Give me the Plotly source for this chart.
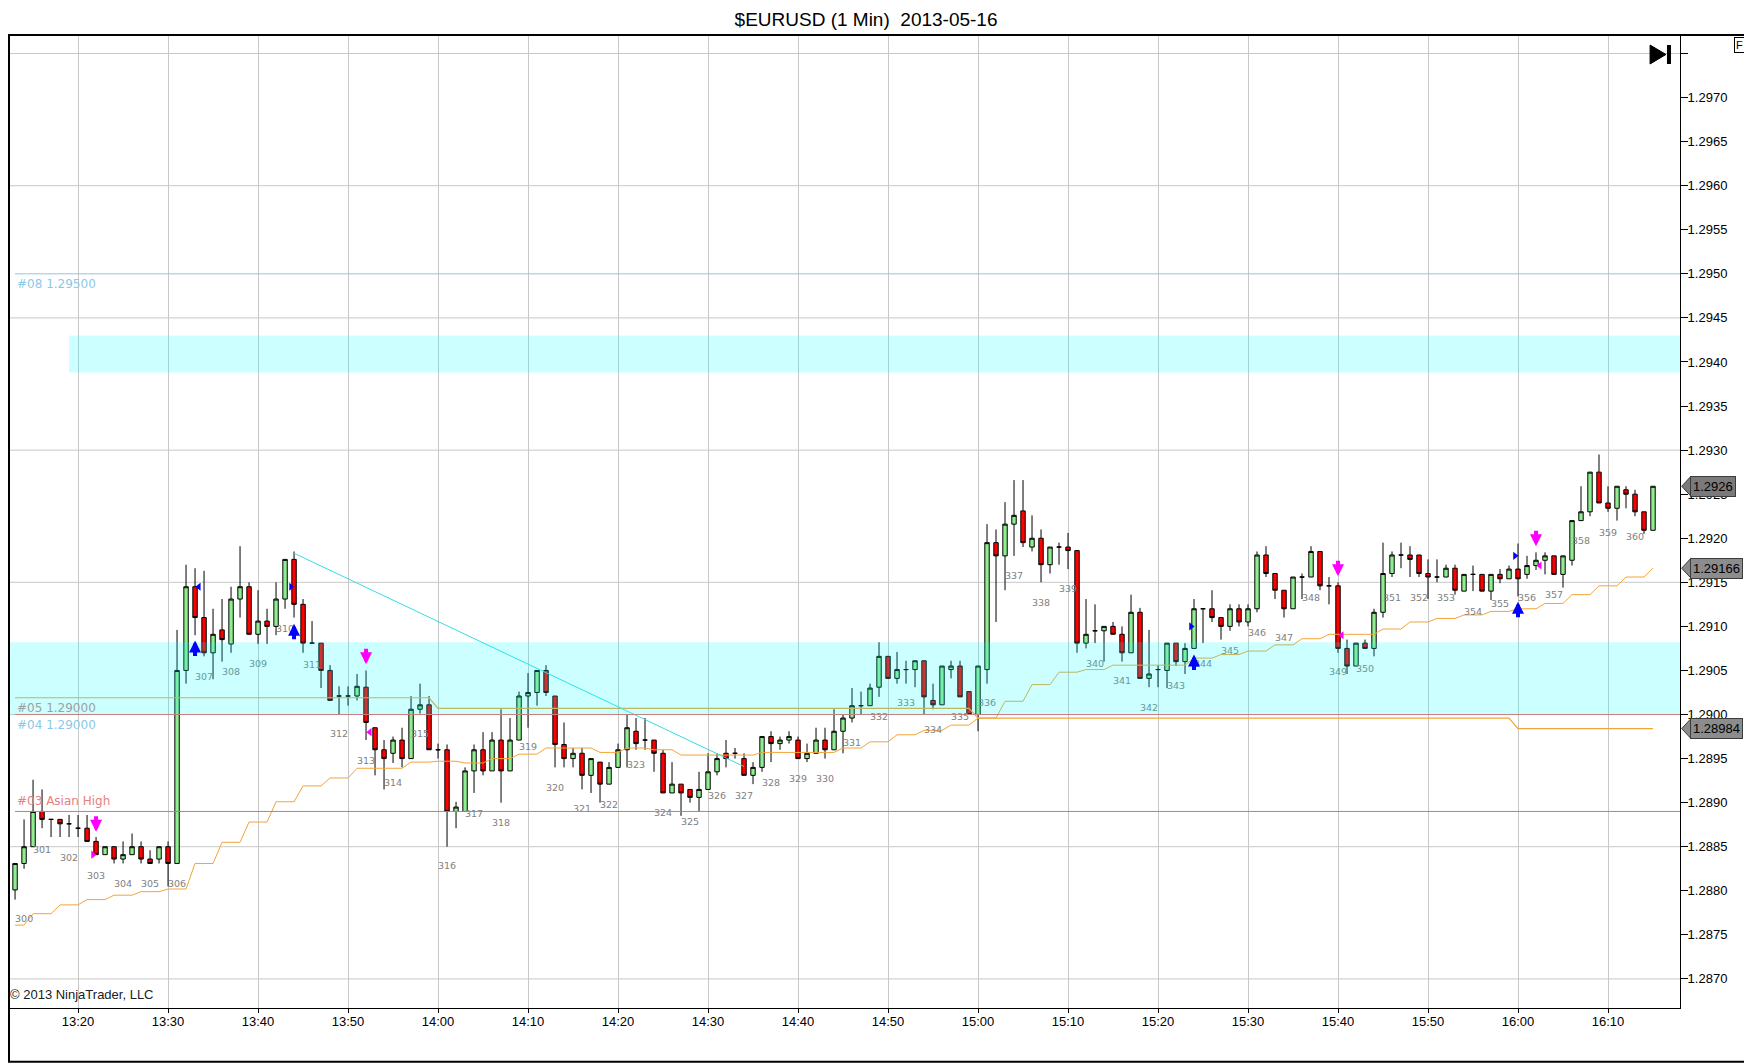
import pandas as pd
import plotly.graph_objects as go

# one bar per minute, starting 13:13
bar_times = pd.date_range("2013-05-16 13:13", periods=183, freq="min")

bar_open = [
    1.28801, 1.28831, 1.28850, 1.28890, 1.28881, 1.28881, 1.28876, 1.28871, 1.28871, 1.28856,
    1.28841, 1.28850, 1.28836, 1.28841, 1.28850, 1.28836, 1.28836, 1.28850, 1.28831, 1.29050,
    1.29145, 1.29110, 1.29070, 1.29096, 1.29080, 1.29131, 1.29145, 1.29091, 1.29106, 1.29100,
    1.29131, 1.29176, 1.29125, 1.29081, 1.29081, 1.29050, 1.29021, 1.29021, 1.29021, 1.29031,
    1.28985, 1.28960, 1.28956, 1.28971, 1.28950, 1.29006, 1.29011, 1.28960, 1.28960, 1.28890,
    1.28890, 1.28936, 1.28960, 1.28936, 1.28971, 1.28936, 1.28971, 1.29021, 1.29025, 1.29050,
    1.29021, 1.28966, 1.28950, 1.28956, 1.28931, 1.28946, 1.28921, 1.28940, 1.28960, 1.28981,
    1.28971, 1.28971, 1.28956, 1.28911, 1.28921, 1.28915, 1.28906, 1.28915, 1.28935, 1.28956,
    1.28956, 1.28950, 1.28931, 1.28940, 1.28975, 1.28967, 1.28971, 1.28971, 1.28950, 1.28956,
    1.28971, 1.28960, 1.28981, 1.28996, 1.29010, 1.29010, 1.29031, 1.29066, 1.29041, 1.29051,
    1.29051, 1.29061, 1.29016, 1.29011, 1.29051, 1.29055, 1.29026, 1.29000, 1.29051, 1.29195,
    1.29180, 1.29216, 1.29231, 1.29190, 1.29200, 1.29170, 1.29190, 1.29190, 1.29186, 1.29081,
    1.29095, 1.29095, 1.29100, 1.29091, 1.29070, 1.29116, 1.29041, 1.29051, 1.29050, 1.29081,
    1.29060, 1.29075, 1.29120, 1.29120, 1.29110, 1.29100, 1.29120, 1.29105, 1.29120, 1.29181,
    1.29160, 1.29141, 1.29120, 1.29156, 1.29156, 1.29185, 1.29146, 1.29146, 1.29075, 1.29055,
    1.29081, 1.29075, 1.29116, 1.29160, 1.29181, 1.29181, 1.29181, 1.29160, 1.29156, 1.29156,
    1.29166, 1.29140, 1.29159, 1.29159, 1.29140, 1.29159, 1.29154, 1.29165, 1.29159, 1.29169,
    1.29175, 1.29180, 1.29159, 1.29175, 1.29220, 1.29230, 1.29275, 1.29240, 1.29234, 1.29255,
    1.29250, 1.29230, 1.29209,
]
bar_high = [
    1.28831, 1.28881, 1.28926, 1.28915, 1.28881, 1.28881, 1.28886, 1.28886, 1.28886, 1.28861,
    1.28850, 1.28850, 1.28856, 1.28865, 1.28856, 1.28846, 1.28850, 1.28856, 1.29096, 1.29170,
    1.29166, 1.29163, 1.29120, 1.29131, 1.29145, 1.29191, 1.29150, 1.29141, 1.29120, 1.29150,
    1.29176, 1.29185, 1.29131, 1.29106, 1.29081, 1.29056, 1.29032, 1.29032, 1.29046, 1.29050,
    1.28985, 1.28971, 1.28975, 1.28985, 1.29021, 1.29035, 1.29021, 1.28967, 1.28966, 1.28901,
    1.28940, 1.28966, 1.28980, 1.28980, 1.29006, 1.28996, 1.29026, 1.29047, 1.29050, 1.29056,
    1.29021, 1.28991, 1.28962, 1.28962, 1.28950, 1.28946, 1.28946, 1.28967, 1.29000, 1.28996,
    1.28996, 1.28971, 1.28960, 1.28946, 1.28921, 1.28915, 1.28935, 1.28956, 1.28956, 1.28971,
    1.28962, 1.28956, 1.28946, 1.28975, 1.28981, 1.28975, 1.28981, 1.28975, 1.28967, 1.28985,
    1.28985, 1.29006, 1.29000, 1.29030, 1.29026, 1.29035, 1.29082, 1.29066, 1.29071, 1.29061,
    1.29061, 1.29061, 1.29035, 1.29055, 1.29061, 1.29061, 1.29026, 1.29055, 1.29216, 1.29210,
    1.29241, 1.29266, 1.29266, 1.29226, 1.29210, 1.29190, 1.29195, 1.29206, 1.29186, 1.29131,
    1.29125, 1.29100, 1.29105, 1.29100, 1.29136, 1.29121, 1.29096, 1.29056, 1.29081, 1.29081,
    1.29081, 1.29131, 1.29120, 1.29141, 1.29110, 1.29125, 1.29125, 1.29125, 1.29185, 1.29191,
    1.29160, 1.29141, 1.29156, 1.29160, 1.29191, 1.29185, 1.29156, 1.29150, 1.29085, 1.29081,
    1.29085, 1.29120, 1.29195, 1.29185, 1.29195, 1.29191, 1.29181, 1.29176, 1.29176, 1.29170,
    1.29170, 1.29159, 1.29169, 1.29159, 1.29159, 1.29165, 1.29169, 1.29194, 1.29180, 1.29184,
    1.29184, 1.29180, 1.29180, 1.29220, 1.29259, 1.29275, 1.29295, 1.29259, 1.29259, 1.29259,
    1.29255, 1.29230, 1.29259,
]
bar_low = [
    1.28790, 1.28825, 1.28850, 1.28871, 1.28861, 1.28861, 1.28861, 1.28861, 1.28856, 1.28841,
    1.28841, 1.28831, 1.28831, 1.28841, 1.28831, 1.28831, 1.28831, 1.28805, 1.28831, 1.29035,
    1.29090, 1.29066, 1.29040, 1.29060, 1.29070, 1.29110, 1.29091, 1.29080, 1.29080, 1.29090,
    1.29120, 1.29110, 1.29070, 1.29081, 1.29030, 1.29016, 1.29000, 1.29010, 1.29016, 1.28971,
    1.28931, 1.28915, 1.28945, 1.28940, 1.28950, 1.29001, 1.28960, 1.28950, 1.28850, 1.28871,
    1.28890, 1.28911, 1.28931, 1.28936, 1.28900, 1.28936, 1.28971, 1.28985, 1.29010, 1.29021,
    1.28940, 1.28940, 1.28940, 1.28915, 1.28911, 1.28900, 1.28921, 1.28940, 1.28940, 1.28960,
    1.28960, 1.28935, 1.28911, 1.28911, 1.28885, 1.28900, 1.28890, 1.28915, 1.28931, 1.28940,
    1.28950, 1.28931, 1.28921, 1.28935, 1.28946, 1.28960, 1.28967, 1.28950, 1.28946, 1.28956,
    1.28950, 1.28960, 1.28956, 1.28991, 1.29000, 1.29010, 1.29020, 1.29041, 1.29035, 1.29035,
    1.29031, 1.29000, 1.29006, 1.29011, 1.29041, 1.29020, 1.29000, 1.28981, 1.29035, 1.29105,
    1.29141, 1.29180, 1.29190, 1.29185, 1.29150, 1.29160, 1.29170, 1.29165, 1.29070, 1.29075,
    1.29081, 1.29060, 1.29091, 1.29060, 1.29070, 1.29041, 1.29031, 1.29031, 1.29030, 1.29055,
    1.29046, 1.29075, 1.29081, 1.29105, 1.29085, 1.29095, 1.29100, 1.29100, 1.29116, 1.29156,
    1.29131, 1.29110, 1.29120, 1.29131, 1.29156, 1.29141, 1.29125, 1.29070, 1.29046, 1.29055,
    1.29075, 1.29066, 1.29110, 1.29156, 1.29166, 1.29156, 1.29156, 1.29131, 1.29150, 1.29156,
    1.29136, 1.29140, 1.29140, 1.29140, 1.29130, 1.29149, 1.29154, 1.29134, 1.29154, 1.29164,
    1.29159, 1.29159, 1.29144, 1.29169, 1.29220, 1.29225, 1.29240, 1.29230, 1.29220, 1.29234,
    1.29225, 1.29205, 1.29209,
]
bar_close = [
    1.28831, 1.28850, 1.28890, 1.28881, 1.28881, 1.28876, 1.28876, 1.28871, 1.28856, 1.28841,
    1.28850, 1.28836, 1.28841, 1.28850, 1.28836, 1.28831, 1.28850, 1.28831, 1.29050, 1.29145,
    1.29110, 1.29070, 1.29091, 1.29085, 1.29131, 1.29145, 1.29091, 1.29106, 1.29100, 1.29131,
    1.29176, 1.29125, 1.29081, 1.29081, 1.29050, 1.29016, 1.29021, 1.29021, 1.29032, 1.28991,
    1.28960, 1.28950, 1.28971, 1.28950, 1.29006, 1.29011, 1.28960, 1.28960, 1.28890, 1.28895,
    1.28936, 1.28960, 1.28936, 1.28971, 1.28936, 1.28971, 1.29021, 1.29025, 1.29050, 1.29025,
    1.28966, 1.28950, 1.28956, 1.28931, 1.28950, 1.28921, 1.28940, 1.28960, 1.28985, 1.28967,
    1.28971, 1.28956, 1.28911, 1.28921, 1.28911, 1.28906, 1.28915, 1.28935, 1.28950, 1.28950,
    1.28956, 1.28931, 1.28940, 1.28975, 1.28967, 1.28971, 1.28975, 1.28950, 1.28956, 1.28971,
    1.28960, 1.28981, 1.28996, 1.29010, 1.29010, 1.29030, 1.29066, 1.29041, 1.29051, 1.29051,
    1.29061, 1.29020, 1.29011, 1.29055, 1.29055, 1.29020, 1.29000, 1.29055, 1.29195, 1.29180,
    1.29216, 1.29226, 1.29195, 1.29200, 1.29170, 1.29190, 1.29190, 1.29186, 1.29081, 1.29091,
    1.29095, 1.29100, 1.29091, 1.29070, 1.29116, 1.29041, 1.29046, 1.29051, 1.29081, 1.29060,
    1.29075, 1.29120, 1.29120, 1.29110, 1.29100, 1.29120, 1.29105, 1.29120, 1.29181, 1.29160,
    1.29141, 1.29120, 1.29156, 1.29156, 1.29185, 1.29146, 1.29146, 1.29075, 1.29055, 1.29081,
    1.29075, 1.29116, 1.29160, 1.29181, 1.29181, 1.29176, 1.29160, 1.29156, 1.29156, 1.29166,
    1.29141, 1.29159, 1.29159, 1.29140, 1.29159, 1.29154, 1.29165, 1.29154, 1.29169, 1.29175,
    1.29180, 1.29159, 1.29180, 1.29220, 1.29230, 1.29275, 1.29240, 1.29234, 1.29259, 1.29250,
    1.29230, 1.29209, 1.29259,
]

# stepped trailing line (orange), one value per bar
trail_line = [
    1.28761, 1.28761, 1.28774, 1.28774, 1.28774, 1.28784, 1.28784, 1.28784, 1.28790, 1.28790,
    1.28790, 1.28795, 1.28795, 1.28795, 1.28799, 1.28799, 1.28799, 1.28802, 1.28802, 1.28802,
    1.28831, 1.28831, 1.28831, 1.28855, 1.28855, 1.28855, 1.28878, 1.28878, 1.28878, 1.28901,
    1.28901, 1.28901, 1.28919, 1.28919, 1.28919, 1.28928, 1.28928, 1.28928, 1.28939, 1.28939,
    1.28939, 1.28939, 1.28939, 1.28939, 1.28946, 1.28946, 1.28946, 1.28947, 1.28947, 1.28947,
    1.28945, 1.28945, 1.28945, 1.28950, 1.28950, 1.28950, 1.28955, 1.28955, 1.28955, 1.28962,
    1.28962, 1.28962, 1.28962, 1.28962, 1.28962, 1.28957, 1.28957, 1.28957, 1.28962, 1.28962,
    1.28962, 1.28960, 1.28960, 1.28960, 1.28954, 1.28954, 1.28954, 1.28954, 1.28954, 1.28954,
    1.28954, 1.28954, 1.28954, 1.28957, 1.28957, 1.28957, 1.28957, 1.28957, 1.28957, 1.28957,
    1.28957, 1.28957, 1.28962, 1.28962, 1.28962, 1.28969, 1.28969, 1.28969, 1.28977, 1.28977,
    1.28977, 1.28982, 1.28982, 1.28982, 1.28988, 1.28988, 1.28988, 1.28996, 1.28996, 1.28996,
    1.29015, 1.29015, 1.29015, 1.29034, 1.29034, 1.29034, 1.29048, 1.29048, 1.29048, 1.29051,
    1.29051, 1.29051, 1.29056, 1.29056, 1.29056, 1.29056, 1.29056, 1.29056, 1.29056, 1.29056,
    1.29056, 1.29064, 1.29064, 1.29064, 1.29068, 1.29068, 1.29068, 1.29072, 1.29072, 1.29072,
    1.29079, 1.29079, 1.29079, 1.29086, 1.29086, 1.29086, 1.29091, 1.29091, 1.29091, 1.29091,
    1.29091, 1.29091, 1.29097, 1.29097, 1.29097, 1.29105, 1.29105, 1.29105, 1.29109, 1.29109,
    1.29109, 1.29113, 1.29113, 1.29113, 1.29117, 1.29117, 1.29117, 1.29120, 1.29120, 1.29120,
    1.29126, 1.29126, 1.29126, 1.29136, 1.29136, 1.29136, 1.29146, 1.29146, 1.29146, 1.29156,
    1.29156, 1.29156, 1.29166,
]

# hourly flat line
hour_times = ["2013-05-16 13:13", "2013-05-16 13:59", "2013-05-16 14:00", "2013-05-16 14:59",
              "2013-05-16 15:00", "2013-05-16 15:59", "2013-05-16 16:00", "2013-05-16 16:15"]
hour_level = [1.29019, 1.29019, 1.29007, 1.29007, 1.28996, 1.28996, 1.28984, 1.28984]

# swing numbers printed every third bar
swing_labels = [str(n) for n in range(300, 361)]
swing_prices = [
    1.28767, 1.28846, 1.28837, 1.28816, 1.28807, 1.28807, 1.28807, 1.29042, 1.29047, 1.29057,
    1.29096, 1.29056, 1.28977, 1.28946, 1.28922, 1.28977, 1.28827, 1.28886, 1.28876, 1.28962,
    1.28916, 1.28892, 1.28897, 1.28942, 1.28887, 1.28877, 1.28907, 1.28907, 1.28922, 1.28926,
    1.28926, 1.28967, 1.28997, 1.29012, 1.28982, 1.28997, 1.29012, 1.29156, 1.29126, 1.29142,
    1.29057, 1.29037, 1.29007, 1.29032, 1.29057, 1.29071, 1.29092, 1.29086, 1.29132, 1.29047,
    1.29051, 1.29132, 1.29132, 1.29132, 1.29116, 1.29125, 1.29131, 1.29135, 1.29196, 1.29205,
    1.29201,
]

# signal arrows (tip position)
sell_times = ["2013-05-16 13:22", "2013-05-16 13:52", "2013-05-16 15:40", "2013-05-16 16:02"]
sell_prices = [1.28867, 1.29057, 1.29157, 1.29191]
buy_times = ["2013-05-16 13:33", "2013-05-16 13:44", "2013-05-16 15:24", "2013-05-16 16:00"]
buy_prices = [1.29084, 1.29103, 1.29068, 1.29128]

# small entry triangles
flag_times = ["2013-05-16 13:21:40", "2013-05-16 13:33:25", "2013-05-16 13:43:40",
              "2013-05-16 13:52:25", "2013-05-16 15:23:40", "2013-05-16 15:40:25",
              "2013-05-16 15:59:40", "2013-05-16 16:02:25"]
flag_prices = [1.28841, 1.29145, 1.29145, 1.28980, 1.29100, 1.29090, 1.29180, 1.29169]
flag_symbols = ["triangle-right", "triangle-left", "triangle-right", "triangle-left",
                "triangle-right", "triangle-left", "triangle-right", "triangle-left"]
flag_colors = ["#FF00FF", "#0000FF", "#0000FF", "#FF00FF",
               "#0000FF", "#FF00FF", "#0000FF", "#FF00FF"]

# trend line
trend_times = ["2013-05-16 13:44", "2013-05-16 14:34"]
trend_prices = [1.29183, 1.28941]

# horizontal levels
level_08 = 1.29500
level_04 = 1.29000
level_03 = 1.28890
zone_low = [1.29000, 1.29082]
zone_high = [1.29388, 1.29430]

price_ticks = [1.2870, 1.2875, 1.2880, 1.2885, 1.2890, 1.2895, 1.2900, 1.2905, 1.2910,
               1.2915, 1.2920, 1.2925, 1.2930, 1.2935, 1.2940, 1.2945, 1.2950, 1.2955,
               1.2960, 1.2965, 1.2970, 1.2975]
price_tick_text = ["1.2870", "1.2875", "1.2880", "1.2885", "1.2890", "1.2895", "1.2900",
                   "1.2905", "1.2910", "1.2915", "1.2920", "1.2925", "1.2930", "1.2935",
                   "1.2940", "1.2945", "1.2950", "1.2955", "1.2960", "1.2965", "1.2970", ""]
grid_levels = [1.2870, 1.2885, 1.2900, 1.2915, 1.2930, 1.2945, 1.2960, 1.2975]

# price boxes on the right axis
box_prices = [bar_close[-1], trail_line[-1], hour_level[-1]]
box_texts = ["1.2926", "1.29166", "1.28984"]
box_fills = ["#7A7A7A", "#8C8C8C", "#8C8C8C"]

x_start = "2013-05-16 13:12:13"
x_end = "2013-05-16 16:18:00"
y_range = [1.28667, 1.29771]

FONT = "Arial, Liberation Sans, sans-serif"
LABEL_FONT = "Verdana, DejaVu Sans, sans-serif"
ORANGE = "#F2A43A"

fig = go.Figure()

fig.add_trace(
    go.Candlestick(
        x=bar_times,
        open=bar_open,
        high=bar_high,
        low=bar_low,
        close=bar_close,
        increasing=dict(fillcolor="#90EE90", line=dict(color="black", width=1)),
        decreasing=dict(fillcolor="#FF0000", line=dict(color="black", width=1)),
        whiskerwidth=0,
        showlegend=False,
    )
)

fig.add_trace(
    go.Scatter(
        x=bar_times, y=trail_line, mode="lines",
        line=dict(color=ORANGE, width=1), showlegend=False, hoverinfo="skip",
    )
)
fig.add_trace(
    go.Scatter(
        x=hour_times, y=hour_level, mode="lines",
        line=dict(color=ORANGE, width=1.2), showlegend=False, hoverinfo="skip",
    )
)
fig.add_trace(
    go.Scatter(
        x=trend_times, y=trend_prices, mode="lines",
        line=dict(color="#33DDE6", width=1), showlegend=False, hoverinfo="skip",
    )
)

# bar numbers (the first one sits against the left edge)
label_pos = ["middle right"] + ["middle center"] * (len(swing_labels) - 1)
fig.add_trace(
    go.Scatter(
        x=bar_times[::3], y=swing_prices, mode="text", text=swing_labels,
        textposition=label_pos,
        textfont=dict(family=LABEL_FONT, size=9.5, color="#808080"),
        showlegend=False, hoverinfo="skip",
    )
)

fig.add_trace(
    go.Scatter(
        x=pd.to_datetime(flag_times), y=flag_prices, mode="markers",
        marker=dict(symbol=flag_symbols, color=flag_colors, size=7),
        showlegend=False, hoverinfo="skip",
    )
)

annotations = []
for t, p in zip(sell_times, sell_prices):
    annotations.append(dict(
        x=t, y=p, xref="x", yref="y", text="", showarrow=True,
        ax=0, ay=-17, arrowhead=2, arrowsize=0.6, arrowwidth=4, arrowcolor="#FF00FF",
    ))
for t, p in zip(buy_times, buy_prices):
    annotations.append(dict(
        x=t, y=p, xref="x", yref="y", text="", showarrow=True,
        ax=0, ay=17, arrowhead=2, arrowsize=0.6, arrowwidth=4, arrowcolor="#0000FF",
    ))

# level captions
first_bar = bar_times[0]
annotations += [
    dict(x=first_bar, y=level_08, text="#08 1.29500", xanchor="left", yanchor="top",
         yshift=-1, showarrow=False, font=dict(family=LABEL_FONT, size=12, color="#8CC8E6")),
    dict(x=first_bar, y=hour_level[0], text="#05 1.29000", xanchor="left", yanchor="top",
         yshift=-1, showarrow=False, font=dict(family=LABEL_FONT, size=12, color="#A0A0A0")),
    dict(x=first_bar, y=level_04, text="#04 1.29000", xanchor="left", yanchor="top",
         yshift=-1, showarrow=False, font=dict(family=LABEL_FONT, size=12, color="#8CC8E6")),
    dict(x=first_bar, y=level_03, text="#03 Asian High", xanchor="left", yanchor="bottom",
         yshift=1, showarrow=False, font=dict(family=LABEL_FONT, size=12, color="#E88080")),
]

shapes = []
for g in grid_levels:
    shapes.append(dict(type="line", xref="paper", x0=0, x1=1, yref="y", y0=g, y1=g,
                       line=dict(color="#C8C8C8", width=1), layer="below"))

for price, text, fill in zip(box_prices, box_texts, box_fills):
    annotations.append(dict(
        x=1.0062, y=price, xref="paper", yref="y", text=text, showarrow=False,
        xanchor="left", yanchor="middle", bgcolor=fill, bordercolor="#3C3C3C",
        borderwidth=1, borderpad=2, font=dict(family=FONT, size=13, color="black"),
    ))
    # pointed tip of the price box
    shapes.append(dict(
        type="path", xref="paper", yref="y",
        path=f"M 1.0010 {price} L 1.0064 {price + 0.00011} L 1.0064 {price - 0.00011} Z",
        fillcolor=fill, line=dict(color="#3C3C3C", width=1),
    ))

shapes += [
    dict(type="line", xref="x", x0=first_bar, x1=x_end, yref="y", y0=level_08, y1=level_08,
         line=dict(color="#8CC8E6", width=1)),
    dict(type="line", xref="x", x0=first_bar, x1=x_end, yref="y", y0=level_04, y1=level_04,
         line=dict(color="#E07070", width=1)),
    dict(type="line", xref="x", x0=first_bar, x1=x_end, yref="y", y0=level_03, y1=level_03,
         line=dict(color="#E07070", width=1)),
    dict(type="rect", xref="paper", x0=0, x1=1, yref="y", y0=zone_low[0], y1=zone_low[1],
         fillcolor="rgba(0,255,255,0.2)", line=dict(width=0)),
    dict(type="rect", xref="x", x0=bar_times[6], x1=x_end, yref="y", y0=zone_high[0],
         y1=zone_high[1], fillcolor="rgba(0,255,255,0.2)", line=dict(width=0)),
    # frame
    dict(type="line", xref="paper", x0=0, x1=1.0430, yref="paper", y0=1, y1=1,
         line=dict(color="black", width=1.5)),
    dict(type="rect", xref="paper", x0=0.0006, x1=1.0424, yref="paper", y0=-0.0553, y1=1,
         line=dict(color="black", width=2)),
    # "jump to end" glyph
    dict(type="path", xref="paper", yref="paper",
         path="M 0.9821 0.9897 L 0.9821 0.9702 L 0.9916 0.9800 Z",
         fillcolor="black", line=dict(color="black", width=1)),
    dict(type="rect", xref="paper", yref="paper", x0=0.9922, x1=0.9946, y0=0.9702, y1=0.9897,
         fillcolor="black", line=dict(width=0)),
]

annotations += [
    dict(x=0.0, y=0.0134, xref="paper", yref="paper", text="© 2013 NinjaTrader, LLC",
         showarrow=False, xanchor="left", yanchor="middle",
         font=dict(family=FONT, size=13, color="#202020")),
    dict(x=1.0322, y=0.9975, xref="paper", yref="paper", text="F", showarrow=False,
         xanchor="left", yanchor="top", bordercolor="black", borderwidth=1, borderpad=1,
         bgcolor="white", font=dict(family=FONT, size=11, color="black")),
]

# the page adds an 8px body margin, so the figure is sized to fill the rest of the window
fig.update_layout(
    width=1744,
    height=1056,
    margin=dict(l=0, r=72, t=27, b=56),
    paper_bgcolor="white",
    plot_bgcolor="white",
    title=dict(
        text="$EURUSD (1 Min)  2013-05-16",
        x=0.492, xanchor="center", y=0.996, yanchor="top",
        font=dict(family=FONT, size=19, color="black"),
    ),
    font=dict(family=FONT, size=13, color="black"),
    showlegend=False,
    annotations=annotations,
    shapes=shapes,
    xaxis=dict(
        type="date",
        range=[x_start, x_end],
        rangeslider=dict(visible=False),
        tickformat="%H:%M",
        tick0="2013-05-16 13:20",
        dtick=600000,
        showgrid=True,
        gridcolor="#C8C8C8",
        gridwidth=1,
        ticks="outside",
        ticklen=4,
        tickcolor="black",
        ticklabelstandoff=-3,
        showline=True,
        linecolor="black",
        linewidth=1,
        tickfont=dict(family=FONT, size=13, color="black"),
    ),
    yaxis=dict(
        side="right",
        range=y_range,
        tickvals=price_ticks,
        ticktext=price_tick_text,
        showgrid=False,
        zeroline=False,
        ticks="outside",
        ticklen=7,
        tickcolor="black",
        ticklabelstandoff=-3,
        showline=True,
        linecolor="black",
        linewidth=1,
        tickfont=dict(family=FONT, size=13, color="black"),
    ),
)

fig.write_html("out.html")
